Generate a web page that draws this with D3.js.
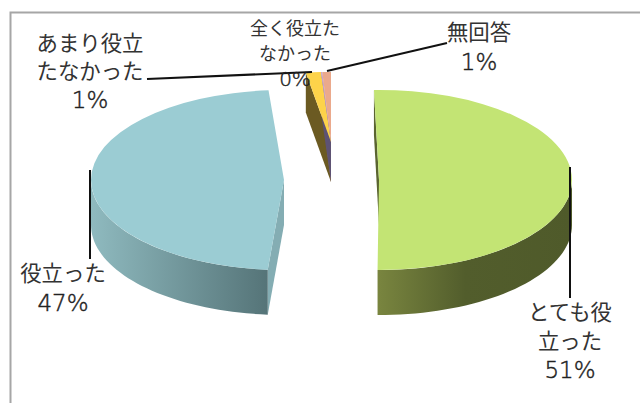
<!DOCTYPE html>
<html><head><meta charset="utf-8">
<script src="https://cdn.jsdelivr.net/npm/d3@7"></script>
<style>html,body{margin:0;padding:0;background:#fff}svg{display:block}</style>
</head><body><svg id="c" width="640" height="403"></svg>
<script>
const categories = ["とても役立った","役立った","あまり役立たなかった","全く役立たなかった","無回答"];
const percentLabels = [51,47,1,0,1];
const sliceShares = [50.45,47.3,1.25,0.11,0.72];
const labelLines = [["とても役","立った"],["役立った"],["あまり役立","たなかった"],["全く役立た","なかった"],["無回答"]];
const topColors = ["#c3e474","#9bccd3","#fdd34a","#c4a4d8","#eba98c"];
const wallColors = ["#6f7a3a","#84adb3","#6b5a22","#5d5273","#c99478"];

const rad = Math.PI/180;
const RX = 193;
// placement of each exploded slice: centre, vertical radius, wall depth, rotation
const cxs = [379,284,331,331,331], cys = [180,180,142,142,142], rys = [90,90,70,70,70];
const depths = [45,45,40,40,40], shifts = [0,4.4,1.5,1.5,1.5];
const labelX = [570,63,90,295,479];
const labelY = [[320,349,378],[281,311],[51,79,108],[35,60,86],[40,70]];
const labelSize = [21.4,21.4,21.4,18,21.4];
const percentSize = [23,23,23,20,23];
const leaders = [
  [[570,167],[570,298]],
  [[90,170],[90,259]],
  [[147,79],[312,72]],
  [[327,71],[447,43]]
];

const svg = d3.select("#c");
const defs = svg.append("defs");
function grad(id, stops, x1, x2){
  const g = defs.append("linearGradient").attr("id",id).attr("gradientUnits","userSpaceOnUse")
    .attr("x1",x1).attr("x2",x2).attr("y1",0).attr("y2",0);
  stops.forEach(s=>g.append("stop").attr("offset",s[0]).attr("stop-color",s[1]));
}
grad("gGreen",[[0,"#79853f"],[0.45,"#525d2c"],[1,"#4f5a2a"]],378,572);
grad("gBlue",[[0,"#8fbabf"],[1,"#557478"]],91,268);

// frame
svg.append("path").attr("d","M10.5 403V12.5H640").attr("fill","none").attr("stroke","#a6a6a6").attr("stroke-width",2);

const pie = d3.pie().sort(null).startAngle(-1.5*rad).endAngle(358.5*rad);
const arcs = pie(sliceShares).map((d,i)=>({i,a0:d.startAngle+shifts[i]*rad,a1:d.endAngle+shifts[i]*rad}));
const arcGen = d3.arc().innerRadius(0).outerRadius(RX);
const pt = (i,a,dy=0)=>[cxs[i]+RX*Math.sin(a), cys[i]-rys[i]*Math.cos(a)+dy];
const line = d3.line();

// radial walls
function radialWall(i,a){
  const P=pt(i,a), P2=pt(i,a,depths[i]);
  return line([P,[cxs[i],cys[i]],[cxs[i],cys[i]+depths[i]],P2])+"Z";
}
svg.append("path").attr("d",radialWall(0,arcs[0].a0)).attr("fill","#5a6530");
svg.append("path").attr("d",radialWall(1,arcs[1].a0)).attr("fill",wallColors[1]);
[2,4,3].forEach(i=>{
  svg.append("path").attr("d",radialWall(i,arcs[i].a0)).attr("fill",wallColors[i]);
});

// curved front walls
function frontWall(i,lo,hi){
  const as=d3.range(0,41).map(k=>lo+(hi-lo)*k/40);
  return line(as.map(a=>pt(i,a)).concat(as.slice().reverse().map(a=>pt(i,a,depths[i]))))+"Z";
}
svg.append("path").attr("d",frontWall(0,90*rad,arcs[0].a1)).attr("fill","url(#gGreen)");
svg.append("path").attr("d",frontWall(1,arcs[1].a0,270*rad)).attr("fill","url(#gBlue)");

// top faces
arcs.forEach(d=>{
  svg.append("path")
    .attr("d",arcGen({startAngle:d.a0,endAngle:d.a1}))
    .attr("transform",`translate(${cxs[d.i]},${cys[d.i]}) scale(1,${rys[d.i]/RX})`)
    .attr("fill",topColors[d.i]);
});

// leader lines
leaders.forEach(l=>svg.append("path").attr("d",line(l)).attr("fill","none").attr("stroke","#111").attr("stroke-width",2));

// labels
categories.forEach((c,i)=>{
  const t = svg.append("text").attr("text-anchor","middle")
    .attr("font-family","'Noto Sans CJK JP','Noto Sans',sans-serif")
    .attr("font-size",labelSize[i]).attr("fill","#333");
  labelLines[i].forEach((s,k)=>t.append("tspan").attr("x",labelX[i]).attr("y",labelY[i][k]).text(s));
  t.append("tspan").attr("x",labelX[i]).attr("y",labelY[i][labelLines[i].length])
    .attr("font-family","'DejaVu Sans',sans-serif").attr("font-size",percentSize[i]).attr("font-weight",200)
    .attr("fill","#222").attr("stroke","#222").attr("stroke-width",0.45)
    .text(percentLabels[i]+"%");
});
</script></body></html>
